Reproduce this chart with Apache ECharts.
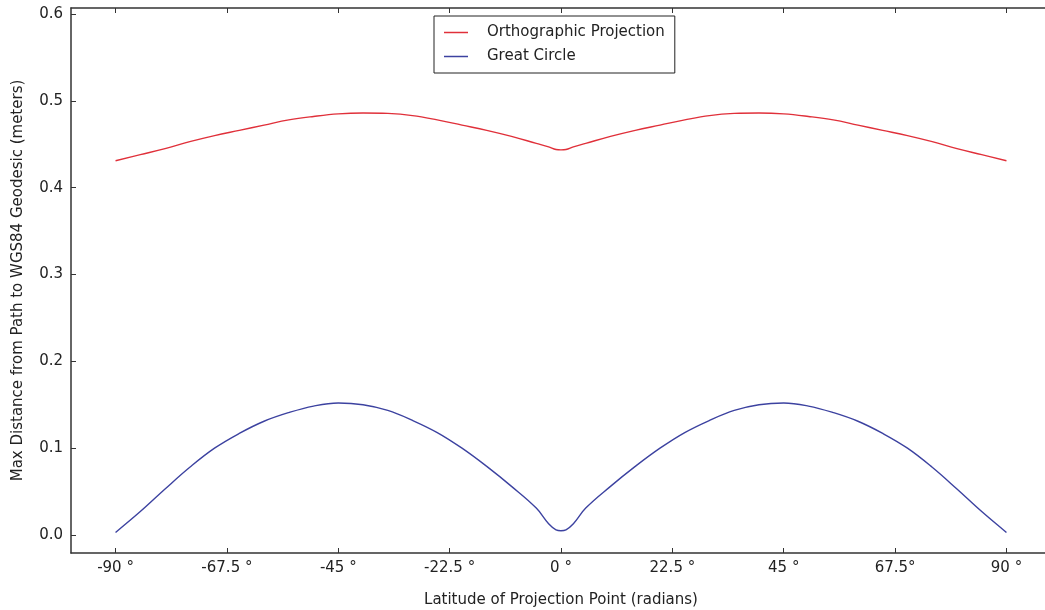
<!DOCTYPE html>
<html>
<head>
<meta charset="utf-8">
<script src="https://cdn.jsdelivr.net/npm/echarts@6/dist/echarts.min.js"></script>
<style>
  html, body { margin: 0; padding: 0; background: #fff; }
  #chart { width: 1045px; height: 610px; }
</style>
</head>
<body>
<div id="chart"></div>
<script>
// latitude of projection point (degrees)
const lats = [-90, -85, -80, -75, -70, -65, -60, -55, -50, -45, -40, -35, -30, -25, -20, -15, -10, -5, -2.5, -1, 0,
  1, 2.5, 5, 10, 15, 20, 25, 30, 35, 40, 45, 50, 55, 60, 65, 70, 75, 80, 85, 90];

// max distance (meters)
const orthographic = [0.431, 0.438, 0.445, 0.453, 0.460, 0.466, 0.472, 0.478, 0.482, 0.485, 0.486, 0.4855, 0.483, 0.478, 0.472, 0.466, 0.459, 0.451, 0.447, 0.444, 0.4435,
  0.444, 0.447, 0.451, 0.459, 0.466, 0.472, 0.478, 0.483, 0.4855, 0.486, 0.485, 0.482, 0.478, 0.472, 0.466, 0.460, 0.453, 0.445, 0.438, 0.431];
const greatCircle = [0.003, 0.027, 0.053, 0.078, 0.100, 0.117, 0.131, 0.141, 0.1485, 0.152, 0.150, 0.1435, 0.132, 0.118, 0.100, 0.079, 0.056, 0.031, 0.013, 0.006, 0.005,
  0.006, 0.013, 0.031, 0.056, 0.079, 0.100, 0.118, 0.132, 0.1435, 0.150, 0.152, 0.1485, 0.141, 0.131, 0.117, 0.100, 0.078, 0.053, 0.027, 0.003];

const xTicks = [-90, -67.5, -45, -22.5, 0, 22.5, 45, 67.5, 90];
const xTickLabels = ['-90 °', '-67.5 °', '-45 °', '-22.5 °', '0 °', '22.5 °', '45 °', '67.5°', '90 °'];
const yTicks = [0, 0.1, 0.2, 0.3, 0.4, 0.5, 0.6];

const font = 'DejaVu Sans';
const axisColor = '#333';

var dom = document.getElementById('chart');
var myChart = echarts.init(dom);

function pairs(ys) {
  return lats.map(function (x, i) { return [x, ys[i]]; });
}

var option = {
  animation: false,
  backgroundColor: '#fff',
  textStyle: { fontFamily: font },
  grid: { left: 71, top: 8, width: 980, height: 545, outerBoundsMode: 'none', containLabel: false },
  legend: {
    orient: 'vertical',
    left: 434,
    top: 16,
    padding: [9, 10, 9, 10],
    icon: 'rect',
    itemWidth: 24,
    itemHeight: 1.5,
    itemGap: 9,
    borderColor: '#222',
    borderWidth: 1,
    textStyle: { fontFamily: font, fontSize: 15, lineHeight: 14, color: '#222', padding: [0, 0, 0, 14] },
    data: ['Orthographic Projection', 'Great Circle']
  },
  xAxis: [
    {
      type: 'value',
      min: -99,
      max: 99,
      name: 'Latitude of Projection Point (radians)',
      nameLocation: 'middle',
      nameGap: 40,
      nameTextStyle: { fontFamily: font, fontSize: 15, color: '#222' },
      splitLine: { show: false },
      axisLine: { onZero: false, lineStyle: { color: axisColor, width: 1.5 } },
      axisTick: { inside: true, length: 5, customValues: xTicks, lineStyle: { color: axisColor } },
      axisLabel: {
        customValues: xTicks,
        margin: 8,
        fontFamily: font,
        fontSize: 15,
        color: '#222',
        formatter: function (v) {
          var i = xTicks.indexOf(v);
          return i >= 0 ? xTickLabels[i] : '';
        }
      }
    },
    {
      type: 'value',
      position: 'top',
      min: -99,
      max: 99,
      splitLine: { show: false },
      axisLine: { onZero: false, lineStyle: { color: axisColor, width: 1.5 } },
      axisTick: { inside: true, length: 5, customValues: xTicks, lineStyle: { color: axisColor } },
      axisLabel: { show: false }
    }
  ],
  yAxis: {
    type: 'value',
    min: -0.0207,
    max: 0.6069,
    name: 'Max Distance from Path to WGS84 Geodesic (meters)',
    nameLocation: 'middle',
    nameGap: 45,
    nameTextStyle: { fontFamily: font, fontSize: 15, color: '#222' },
    splitLine: { show: false },
    axisLine: { show: true, onZero: false, lineStyle: { color: axisColor, width: 1.5 } },
    axisTick: { show: true, inside: true, length: 5, customValues: yTicks, lineStyle: { color: axisColor } },
    axisLabel: {
      customValues: yTicks,
      margin: 8,
      fontFamily: font,
      fontSize: 15,
      color: '#222',
      formatter: function (v) { return v.toFixed(1); }
    }
  },
  series: [
    {
      name: 'Orthographic Projection',
      type: 'line',
      data: pairs(orthographic),
      symbol: 'none',
      smooth: 0.4,
      color: '#e0303a',
      lineStyle: { width: 1.4, color: '#e0303a' }
    },
    {
      name: 'Great Circle',
      type: 'line',
      data: pairs(greatCircle),
      symbol: 'none',
      smooth: 0.4,
      color: '#3c42a0',
      lineStyle: { width: 1.4, color: '#3c42a0' }
    }
  ]
};

myChart.setOption(option);
</script>
</body>
</html>
